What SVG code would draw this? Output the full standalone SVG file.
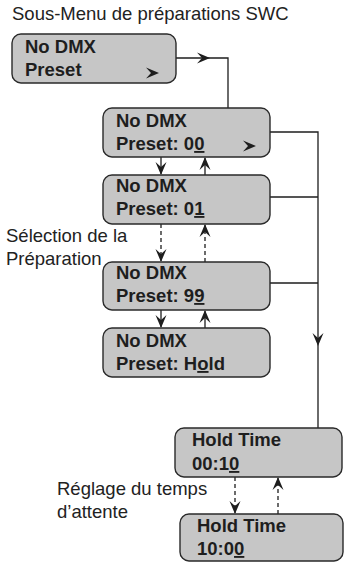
<svg xmlns="http://www.w3.org/2000/svg" width="344" height="564" viewBox="0 0 344 564">
<style>
.box{fill:#c6c6c6;stroke:#2a2a2a;stroke-width:1.4}
.bt{font-family:"Liberation Sans",Arial,sans-serif;font-weight:bold;font-size:18.5px;fill:#1e1e1e}
.lt{font-family:"Liberation Sans",Arial,sans-serif;font-size:18.5px;fill:#222}
.ln{fill:none;stroke:#1e1e1e;stroke-width:1.3}
.dl{fill:none;stroke:#1e1e1e;stroke-width:1.3;stroke-dasharray:4 3}
.ah{fill:#1e1e1e}
.u{text-decoration:underline}
</style>
<defs>
<path id="ah" d="M0,0 L-13,-5.5 L-8,0 L-13,5.5 Z"/>
</defs>
<text class="lt" x="12" y="20">Sous-Menu de préparations SWC</text>
<text class="lt" x="6" y="242">Sélection de la</text>
<text class="lt" x="6" y="265">Préparation</text>
<text class="lt" x="57" y="495">Réglage du temps</text>
<text class="lt" x="57" y="518">d’attente</text>
<g id="connectors">
<path class="ln" d="M176,58 H228 V108"/>
<use href="#ah" class="ah" transform="translate(210,58)"/>
<path class="ln" d="M270,132 H318 V428 M270,197 H318 M270,283 H318"/>
<use href="#ah" class="ah" transform="translate(318,346) rotate(90)"/>
<path class="ln" d="M161,157 V174"/>
<use href="#ah" class="ah" transform="translate(161,175) rotate(90)"/>
<path class="ln" d="M205,175 V158"/>
<use href="#ah" class="ah" transform="translate(205,157) rotate(-90)"/>
<path class="dl" d="M161,224 V261"/>
<use href="#ah" class="ah" transform="translate(161,262) rotate(90)"/>
<path class="dl" d="M205,262 V225"/>
<use href="#ah" class="ah" transform="translate(205,224) rotate(-90)"/>
<path class="ln" d="M161,310 V327"/>
<use href="#ah" class="ah" transform="translate(161,328) rotate(90)"/>
<path class="ln" d="M205,328 V311"/>
<use href="#ah" class="ah" transform="translate(205,310) rotate(-90)"/>
<path class="dl" d="M235,477 V513"/>
<use href="#ah" class="ah" transform="translate(235,514) rotate(90)"/>
<path class="dl" d="M278,514 V478"/>
<use href="#ah" class="ah" transform="translate(278,477) rotate(-90)"/>
</g>
<g id="n1">
<rect class="box" x="12" y="34" width="164" height="49" rx="9"/>
<text class="bt" x="25" y="53">No DMX</text>
<text class="bt" x="25" y="76">Preset</text>
<use href="#ah" class="ah" transform="translate(159,73)"/>
</g>
<g id="n2">
<rect class="box" x="103" y="108" width="167" height="49" rx="9"/>
<text class="bt" x="116" y="127">No DMX</text>
<text class="bt" x="116" y="150">Preset: 0<tspan class="u">0</tspan></text>
<use href="#ah" class="ah" transform="translate(256,146)"/>
</g>
<g id="n3">
<rect class="box" x="103" y="175" width="167" height="49" rx="9"/>
<text class="bt" x="116" y="192">No DMX</text>
<text class="bt" x="116" y="215">Preset: 0<tspan class="u">1</tspan></text>
</g>
<g id="n4">
<rect class="box" x="103" y="262" width="167" height="48" rx="9"/>
<text class="bt" x="116" y="279">No DMX</text>
<text class="bt" x="116" y="302">Preset: 9<tspan class="u">9</tspan></text>
</g>
<g id="n5">
<rect class="box" x="103" y="328" width="167" height="49" rx="9"/>
<text class="bt" x="116" y="347">No DMX</text>
<text class="bt" x="116" y="370">Preset: H<tspan class="u">o</tspan>ld</text>
</g>
<g id="n6">
<rect class="box" x="175" y="428" width="167" height="49" rx="9"/>
<text class="bt" x="192" y="446">Hold Time</text>
<text class="bt" x="192" y="470">00:1<tspan class="u">0</tspan></text>
</g>
<g id="n7">
<rect class="box" x="180" y="514" width="163" height="47" rx="9"/>
<text class="bt" x="197" y="532">Hold Time</text>
<text class="bt" x="197" y="555">10:0<tspan class="u">0</tspan></text>
</g>
</svg>
